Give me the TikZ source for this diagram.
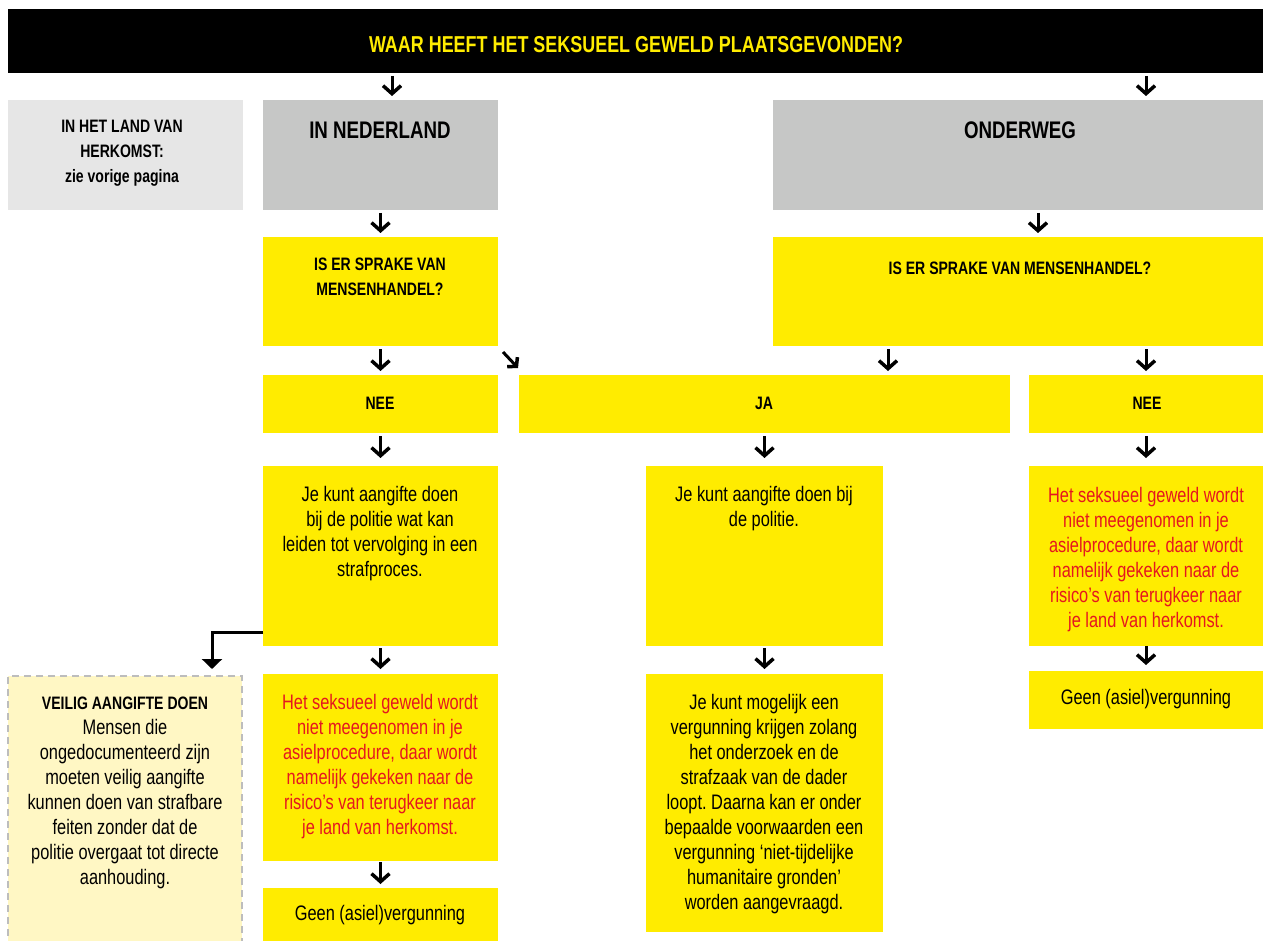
\documentclass[tikz,border=0pt]{standalone}
\usepackage{fontspec}
\setmainfont{Liberation Sans}[FakeStretch=0.78]
\usetikzlibrary{arrows.meta,calc}
\frenchspacing
\definecolor{ayellow}{HTML}{FFEC00}
\definecolor{agray}{HTML}{C6C7C6}
\definecolor{alight}{HTML}{E6E6E6}
\definecolor{apale}{HTML}{FFF7C4}
\definecolor{ared}{HTML}{E5171F}
\definecolor{adash}{HTML}{BDBDBD}
\begin{document}
\begin{tikzpicture}[x=1pt,y=-1pt,
  box/.style={inner sep=0pt, outer sep=0pt, anchor=north west, draw=none},
  ybox/.style={box, fill=ayellow},
  txt/.style={align=center, inner sep=0pt, font=\fontsize{21}{25}\selectfont},
  rtxt/.style={txt, text=ared},
  btxt/.style={align=center, inner sep=0pt, font=\bfseries\fontsize{18}{25}\selectfont},
  arr/.style={line width=3pt, -{Straight Barb[length=8pt,width=18pt,line width=3.5pt]}, shorten <=3pt, shorten >=4pt},
]
\useasboundingbox (0,0) rectangle (1263,941);
\fill[white] (0,0) rectangle (1263,941);

% boxes
\node[box, fill=black, minimum width=1255pt, minimum height=64pt] (hdr) at (8,9) {};
\node[box, fill=alight, minimum width=235pt, minimum height=110pt] (herk) at (8,100) {};
\node[box, fill=agray, minimum width=235pt, minimum height=110pt] (nl) at (263,100) {};
\node[box, fill=agray, minimum width=490pt, minimum height=110pt] (ow) at (773,100) {};
\node[ybox, minimum width=235pt, minimum height=109pt] (q1) at (263,237) {};
\node[ybox, minimum width=490pt, minimum height=109pt] (q2) at (773,237) {};
\node[ybox, minimum width=235pt, minimum height=58pt] (nee1) at (263,375) {};
\node[ybox, minimum width=491pt, minimum height=58pt] (ja) at (519,375) {};
\node[ybox, minimum width=234pt, minimum height=58pt] (nee2) at (1029,375) {};
\node[ybox, minimum width=235pt, minimum height=180pt] (b1) at (263,466) {};
\node[ybox, minimum width=237pt, minimum height=180pt] (b2) at (646,466) {};
\node[ybox, minimum width=234pt, minimum height=180pt] (b3) at (1029,466) {};
\node[ybox, minimum width=235pt, minimum height=187pt] (b4) at (263,674) {};
\node[ybox, minimum width=237pt, minimum height=258pt] (b5) at (646,674) {};
\node[ybox, minimum width=234pt, minimum height=58pt] (b6) at (1029,671) {};
\node[ybox, minimum width=235pt, minimum height=53pt] (b7) at (263,888) {};
\node[box, fill=apale, draw=adash, line width=2pt, dash pattern=on 7pt off 5pt, minimum width=234pt, minimum height=275pt] (safe) at (8,676) {};

% texts
\node[font=\bfseries\fontsize{23}{26}\selectfont, text=ayellow, inner sep=0pt] (tHdr) at (636,45) {WAAR HEEFT HET SEKSUEEL GEWELD PLAATSGEVONDEN?};
\node[btxt, anchor=north] (tHerk) at (122,120) {IN HET LAND VAN\\HERKOMST:\\zie vorige pagina};
\node[font=\bfseries\fontsize{24}{27}\selectfont, inner sep=0pt] (tNl) at (380,130) {IN NEDERLAND};
\node[font=\bfseries\fontsize{24}{27}\selectfont, inner sep=0pt] (tOw) at (1020,130) {ONDERWEG};
\node[btxt, anchor=north] (tQ1) at (380,258) {IS ER SPRAKE VAN\\MENSENHANDEL?};
\node[btxt] (tQ2) at (1020,268) {IS ER SPRAKE VAN MENSENHANDEL?};
\node[btxt] (tNee1) at (380,403) {NEE};
\node[btxt] (tJa) at (764,403) {JA};
\node[btxt] (tNee2) at (1147,403) {NEE};
\node[txt, anchor=north] (tB1) at (380,486) {Je kunt aangifte doen\\bij de politie wat kan\\leiden tot vervolging in een\\strafproces.};
\node[txt, anchor=north] (tB2) at (764,486) {Je kunt aangifte doen bij\\de politie.};
\node[rtxt, anchor=north] (tB3) at (1146,487) {Het seksueel geweld wordt\\niet meegenomen in je\\asielprocedure, daar wordt\\namelijk gekeken naar de\\risico’s van terugkeer naar\\je land van herkomst.};
\node[rtxt, anchor=north] (tB4) at (380,694) {Het seksueel geweld wordt\\niet meegenomen in je\\asielprocedure, daar wordt\\namelijk gekeken naar de\\risico’s van terugkeer naar\\je land van herkomst.};
\node[txt, anchor=north] (tB5) at (764,694) {Je kunt mogelijk een\\vergunning krijgen zolang\\het onderzoek en de\\strafzaak van de dader\\loopt. Daarna kan er onder\\bepaalde voorwaarden een\\vergunning ‘niet-tijdelijke\\humanitaire gronden’\\worden aangevraagd.};
\node[txt] (tB6) at (1146,699) {Geen (asiel)vergunning};
\node[txt] (tB7) at (380,915) {Geen (asiel)vergunning};
\node[txt, anchor=north] (tSafe) at (125,697) {{\bfseries\fontsize{18}{25}\selectfont VEILIG AANGIFTE DOEN}\\Mensen die\\ongedocumenteerd zijn\\moeten veilig aangifte\\kunnen doen van strafbare\\feiten zonder dat de\\politie overgaat tot directe\\aanhouding.};

% arrows
\draw[arr] ($(hdr.south -| nl.north)+(11.5,0)$) -- ($(nl.north)+(11.5,0)$);
\draw[arr] (hdr.south -| nee2.north) -- (ow.north -| nee2.north);
\draw[arr] (nl.south) -- (q1.north);
\draw[arr] ($(ow.south)+(20,0)$) -- ($(q2.north -| ow.south)+(20,0)$);
\draw[arr] (q1.south) -- (nee1.north);
\draw[line width=3pt, -{Straight Barb[length=6pt,width=14pt,line width=3.5pt]}] ($(q1.south east)+(5,6)$) -- ($(q1.south east)+(20,22)$);
\draw[arr] ($(q2.south)+(-130,0)$) -- ($(ja.north -| q2.south)+(-130,0)$);
\draw[arr] (q2.south -| nee2.north) -- (nee2.north);
\draw[arr, shorten >=8pt] (nee1.south) -- (b1.north);
\draw[arr, shorten >=8pt] (ja.south -| b2.north) -- (b2.north);
\draw[arr, shorten >=8pt] (nee2.south) -- (b3.north);
\draw[arr, shorten <=2pt, shorten >=5pt] (b1.south) -- (b4.north);
\draw[arr, shorten <=2pt, shorten >=5pt] (b2.south) -- (b5.north);
\draw[arr, shorten <=0pt, shorten >=6pt] (b3.south) -- (b6.north);
\draw[arr, shorten <=1pt, shorten >=4pt] (b4.south) -- (b7.north);
\draw[line width=3pt, -{Triangle[length=10pt,width=20pt]}] ($(b1.south west)+(0,-14)$) -| ($(safe.north east)+(-30,-7)$);
\end{tikzpicture}
\end{document}
